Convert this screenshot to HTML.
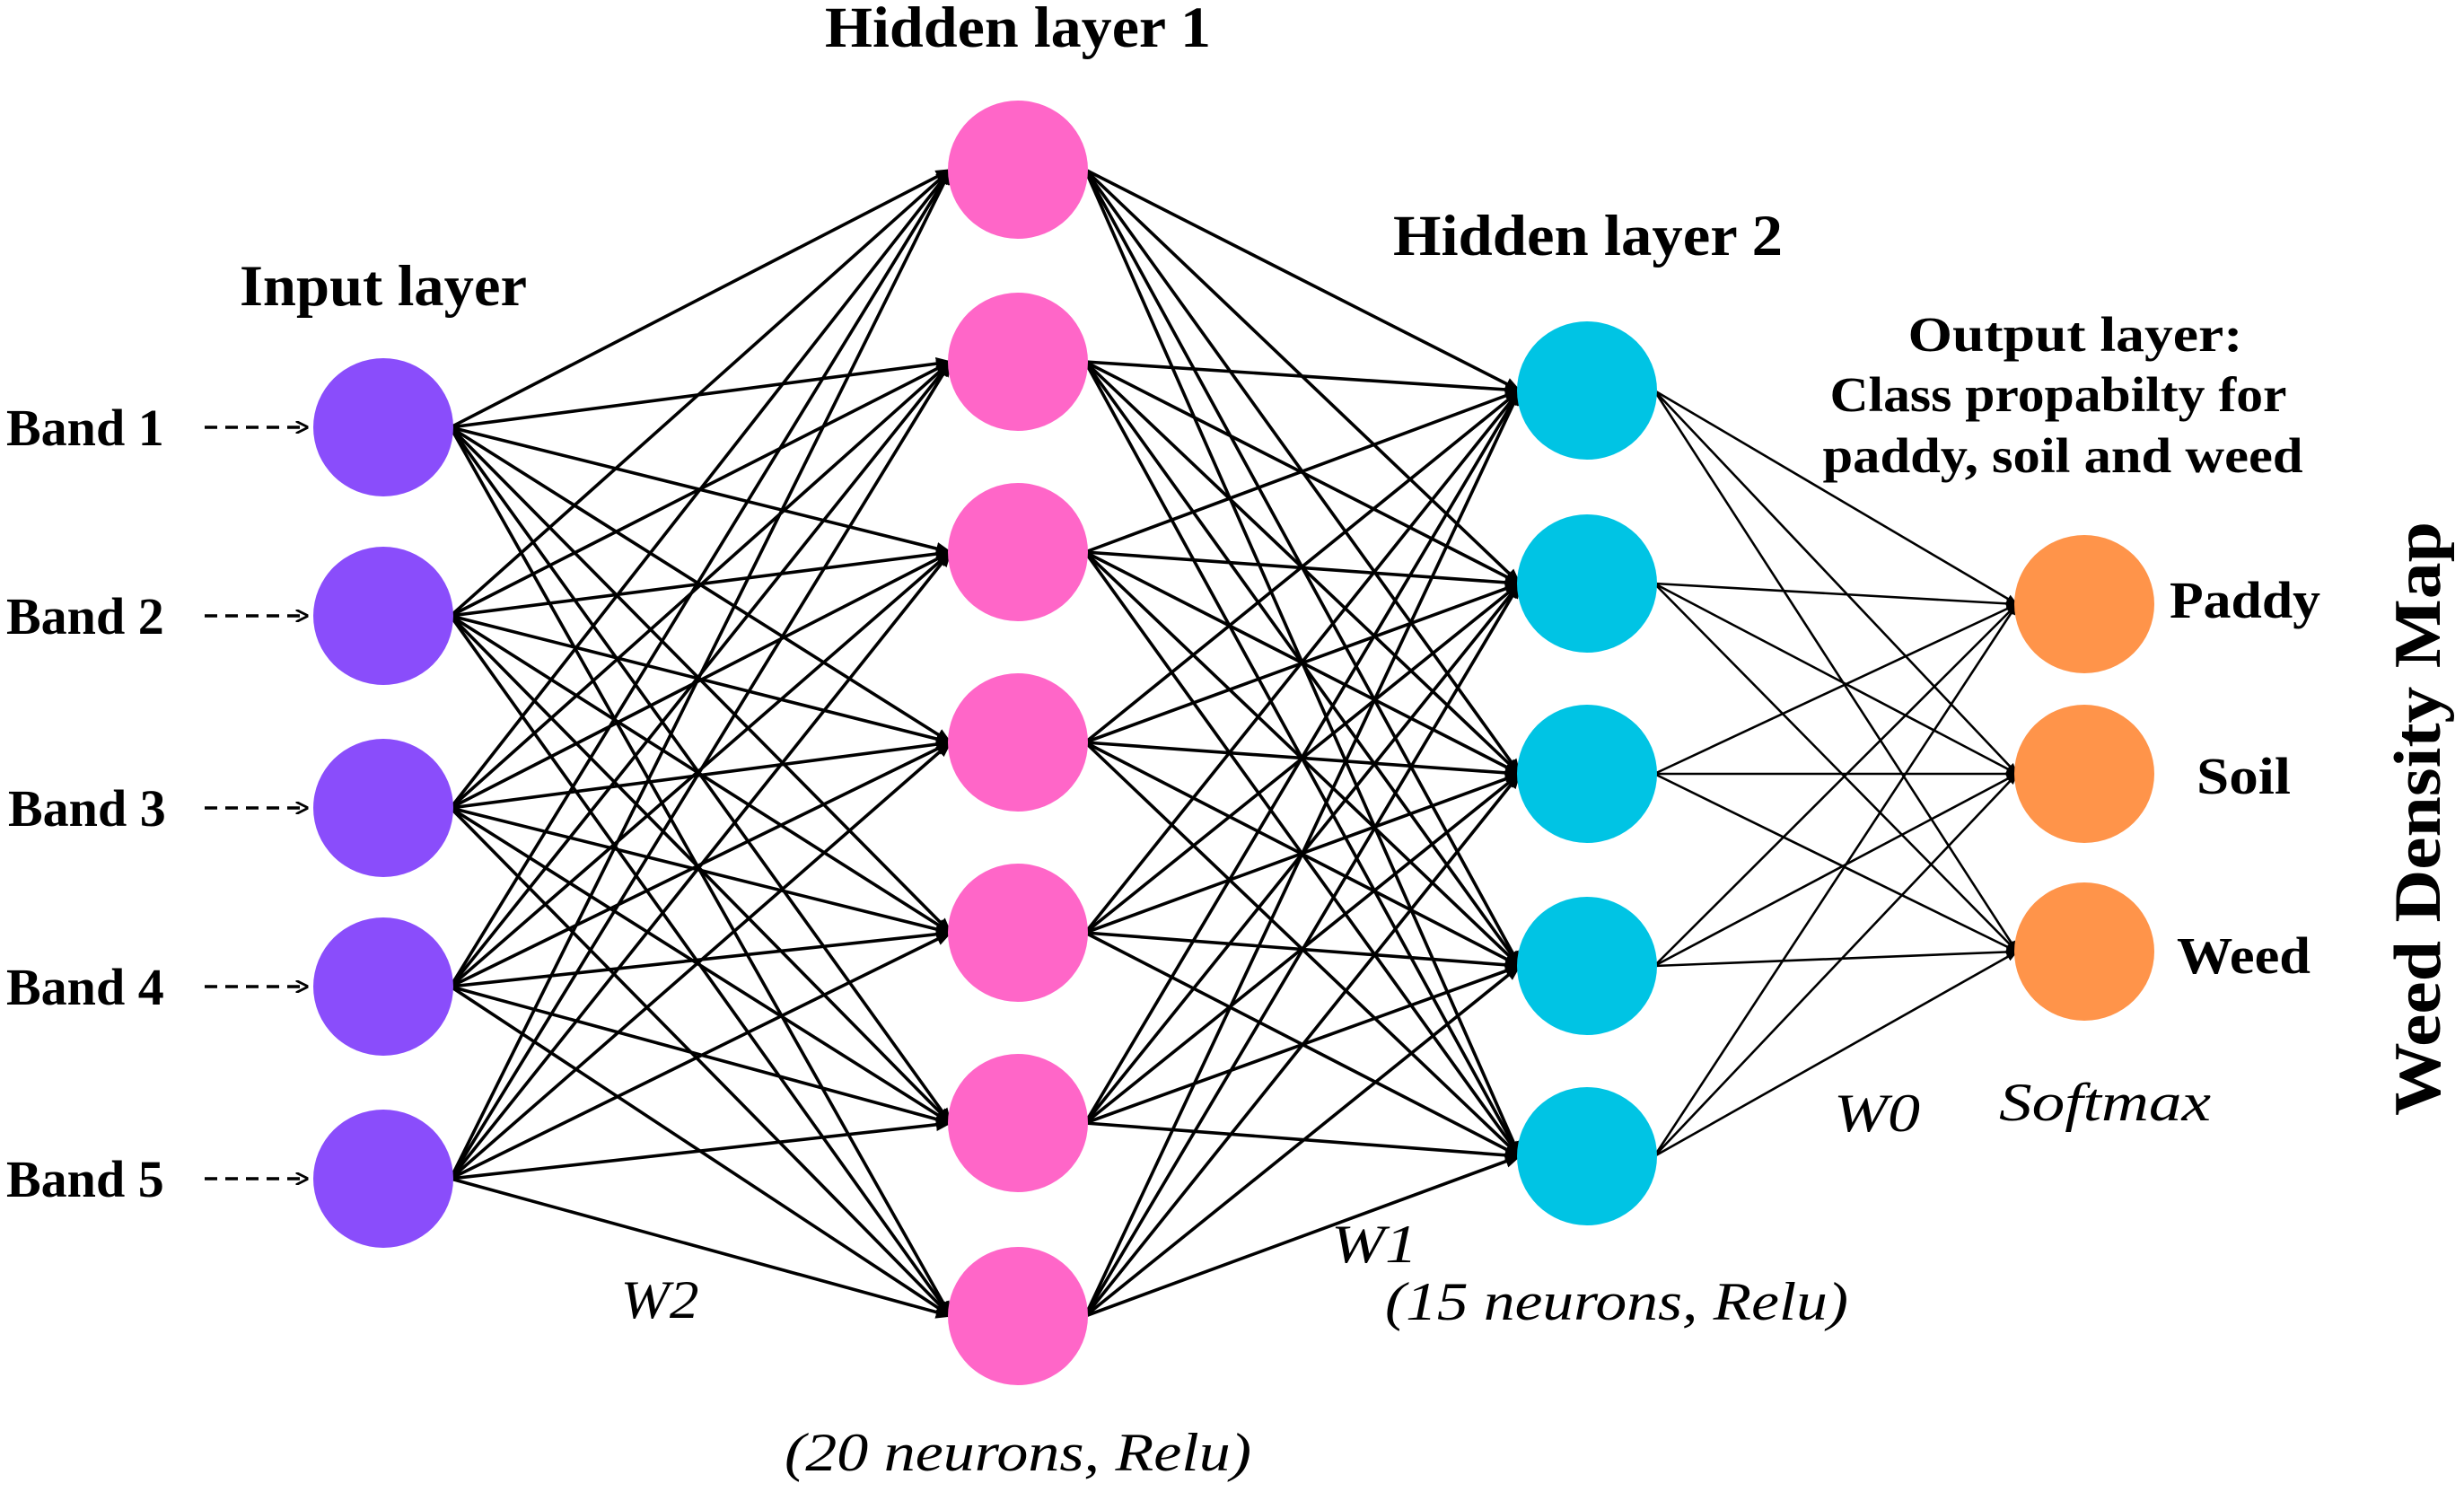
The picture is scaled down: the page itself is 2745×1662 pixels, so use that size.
<!DOCTYPE html>
<html><head><meta charset="utf-8">
<style>
html,body{margin:0;padding:0;background:#fff;}
svg{display:block;}
.b{font-family:"Liberation Serif",serif;font-weight:bold;fill:#000;}
.i{font-family:"Liberation Serif",serif;font-style:italic;fill:#000;}
</style></head>
<body>
<svg id="s" width="2745" height="1662" viewBox="0 0 2745 1662" xmlns="http://www.w3.org/2000/svg">
<defs>
<marker id="a" viewBox="0 0 10 10" refX="9" refY="5" markerWidth="5" markerHeight="5" orient="auto" markerUnits="strokeWidth"><path d="M0,1 L10,5 L0,9 z" fill="#000"/></marker>
<marker id="d" viewBox="0 0 10 10" refX="9" refY="5" markerWidth="4" markerHeight="4" orient="auto" markerUnits="strokeWidth"><path d="M0,0 L10,5 L0,10" fill="none" stroke="#000" stroke-width="2"/></marker>
</defs>
<g id="edges"></g>
<g id="nodes"></g>
<text class="b" x="427" y="340" font-size="65" text-anchor="middle" textLength="320" lengthAdjust="spacingAndGlyphs">Input layer</text>
<text class="b" x="1134" y="52" font-size="65" text-anchor="middle" textLength="430" lengthAdjust="spacingAndGlyphs">Hidden layer 1</text>
<text class="b" x="1769" y="284" font-size="65" text-anchor="middle" textLength="434" lengthAdjust="spacingAndGlyphs">Hidden layer 2</text>
<text class="b" x="2312" y="391" font-size="55" text-anchor="middle" textLength="373" lengthAdjust="spacingAndGlyphs">Output layer:</text>
<text class="b" x="2293" y="458" font-size="55" text-anchor="middle" textLength="509" lengthAdjust="spacingAndGlyphs">Class propabilty for</text>
<text class="b" x="2298" y="526" font-size="55" text-anchor="middle" textLength="535" lengthAdjust="spacingAndGlyphs">paddy, soil and weed</text>
<text class="b" x="2417" y="688" font-size="58" textLength="168" lengthAdjust="spacingAndGlyphs">Paddy</text>
<text class="b" x="2447" y="884" font-size="58" textLength="105" lengthAdjust="spacingAndGlyphs">Soil</text>
<text class="b" x="2425" y="1084" font-size="58" textLength="149" lengthAdjust="spacingAndGlyphs">Weed</text>
<text class="b" x="0" y="0" font-size="74" transform="translate(2718,1243) rotate(-90)" textLength="662" lengthAdjust="spacingAndGlyphs">Weed Density Map</text>
<text class="b" x="7" y="496" font-size="58">Band 1</text>
<text class="b" x="7" y="706" font-size="58">Band 2</text>
<text class="b" x="9" y="920" font-size="58">Band 3</text>
<text class="b" x="7" y="1119" font-size="58">Band 4</text>
<text class="b" x="7" y="1333" font-size="58">Band 5</text>
<text class="i" x="735" y="1468" font-size="60" text-anchor="middle" textLength="87" lengthAdjust="spacingAndGlyphs">W2</text>
<text class="i" x="1531" y="1406" font-size="60" text-anchor="middle" textLength="96" lengthAdjust="spacingAndGlyphs">W1</text>
<text class="i" x="1801" y="1470" font-size="60" text-anchor="middle" textLength="516" lengthAdjust="spacingAndGlyphs">(15 neurons, Relu)</text>
<text class="i" x="1134" y="1638" font-size="60" text-anchor="middle" textLength="520" lengthAdjust="spacingAndGlyphs">(20 neurons, Relu)</text>
<text class="i" x="2091" y="1260" font-size="60" text-anchor="middle" textLength="96" lengthAdjust="spacingAndGlyphs">W0</text>
<text class="i" x="2345" y="1248" font-size="60" text-anchor="middle" textLength="236" lengthAdjust="spacingAndGlyphs">Softmax</text>
</svg>
<script>
var NS="http://www.w3.org/2000/svg";
var L=[
 {x:427,ys:[476,686,900,1099,1313],c:"#8a4dfb"},
 {x:1134,ys:[189,403,615,827,1039,1251,1466],c:"#ff66c8"},
 {x:1768,ys:[435,650,862,1076,1288],c:"#00c4e4"},
 {x:2322,ys:[673,862,1060],c:"#ff944a"}
];
var r=77,E=document.getElementById("edges"),N=document.getElementById("nodes");
function line(x1,y1,x2,y2,w,m,dash){var l=document.createElementNS(NS,"line");
l.setAttribute("x1",x1);l.setAttribute("y1",y1);l.setAttribute("x2",x2);l.setAttribute("y2",y2);
l.setAttribute("stroke","#000");l.setAttribute("stroke-width",w);l.setAttribute("marker-end","url(#"+m+")");
if(dash)l.setAttribute("stroke-dasharray",dash);E.appendChild(l);}
for(var k=0;k<3;k++){var A=L[k],B=L[k+1],w=k==2?2.6:3.6;
 A.ys.forEach(function(y1){B.ys.forEach(function(y2){line(A.x+r-2,y1,B.x-r+2,y2,w,"a");});});}
L[0].ys.forEach(function(y){line(228,y,342,y,3.5,"d","14 9");});
L.forEach(function(l){l.ys.forEach(function(y){var e=document.createElementNS(NS,"ellipse");
e.setAttribute("cx",l.x);e.setAttribute("cy",y);e.setAttribute("rx",78);e.setAttribute("ry",77);e.setAttribute("fill",l.c);N.appendChild(e);});});
</script>
</body></html>
